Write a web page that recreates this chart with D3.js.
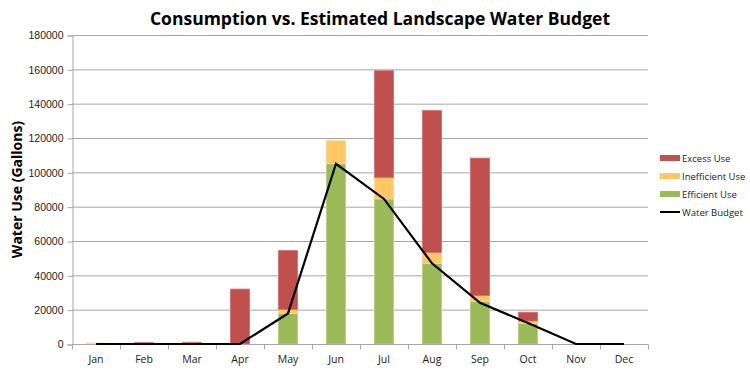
<!DOCTYPE html>
<html>
<head>
<meta charset="utf-8">
<script src="https://cdn.jsdelivr.net/npm/d3@7/dist/d3.min.js"></script>
<style>
  body { margin: 0; background: #fff; }
  svg { font-family: "Open Sans", "DejaVu Sans", sans-serif; }
</style>
</head>
<body>
<svg id="chart" width="750" height="371"></svg>
<script>
// months on the x axis
const months = ['Jan', 'Feb', 'Mar', 'Apr', 'May', 'Jun', 'Jul', 'Aug', 'Sep', 'Oct', 'Nov', 'Dec'];

// stacked consumption (gallons)
const efficientUse   = [0, 0, 0, 0, 17800, 105000, 84500, 46800, 24700, 12000, 0, 0];
const inefficientUse = [500, 0, 0, 0, 2300, 13400, 12500, 6500, 3500, 1400, 0, 0];
const excessUse      = [0, 800, 1000, 32000, 34300, 0, 62200, 82700, 80100, 5100, 0, 0];

// estimated landscape budget
const waterBudget = [0, 0, 0, 0, 17800, 105000, 84500, 47000, 24000, 12200, 0, 0];

const yTicks = [0, 20000, 40000, 60000, 80000, 100000, 120000, 140000, 160000, 180000];

const series = [
	{ key: 'efficient', name: 'Efficient Use', values: efficientUse, fill: '#9bbb59', stroke: '#b5d07a' },
	{ key: 'inefficient', name: 'Inefficient Use', values: inefficientUse, fill: '#ffc864', stroke: '#ffd88e' },
	{ key: 'excess', name: 'Excess Use', values: excessUse, fill: '#c0504d', stroke: '#d4716e' }
];

const svg = d3.select('#chart');
const margin = { left: 72, right: 102, top: 35, bottom: 27 };
const W = 750, H = 371;

const x = d3.scaleBand()
	.domain(months)
	.range([margin.left, W - margin.right])
	.paddingInner(0.6)
	.paddingOuter(0.3);

// band without padding, used for tick marks between months
const xCat = d3.scaleBand().domain(months).range([margin.left, W - margin.right]);

const y = d3.scaleLinear()
	.domain([0, 180000])
	.range([H - margin.bottom, margin.top]);

// title
svg.append('text')
	.attr('x', 380)
	.attr('y', 25)
	.attr('text-anchor', 'middle')
	.style('font-size', '17.5px')
	.style('font-weight', 'bold')
	.text('Consumption vs. Estimated Landscape Water Budget');

// gridlines
svg.append('g')
	.selectAll('line')
	.data(yTicks.slice(1))
	.join('line')
	.attr('x1', margin.left)
	.attr('x2', W - margin.right)
	.attr('y1', d => y(d) + 0.5)
	.attr('y2', d => y(d) + 0.5)
	.style('stroke', '#a6a6a6')
	.style('stroke-width', 1);

// y axis
const yAxis = d3.axisLeft(y).tickValues(yTicks).tickSize(5).tickFormat(d3.format('d'));
const yg = svg.append('g')
	.attr('transform', `translate(${margin.left + 0.5},0.5)`)
	.call(yAxis);
yg.selectAll('path, line').style('stroke', '#a6a6a6');
yg.selectAll('text')
	.attr('x', -9)
	.style('font-size', '10.5px')
	.style('fill', '#222');

svg.append('text')
	.attr('transform', `translate(22,${(margin.top + H - margin.bottom) / 2}) rotate(-90)`)
	.attr('text-anchor', 'middle')
	.style('font-size', '14px')
	.style('font-weight', 'bold')
	.text('Water Use (Gallons)');

// stacked bars
const rows = months.map((m, i) => {
	const r = { month: m };
	series.forEach(s => { r[s.key] = s.values[i]; });
	return r;
});
const stacked = d3.stack().keys(series.map(s => s.key))(rows);

svg.append('g')
	.selectAll('g')
	.data(stacked)
	.join('g')
	.style('fill', (d, i) => series[i].fill)
	.style('stroke', (d, i) => series[i].stroke)
	.style('stroke-width', 0.8)
	.selectAll('rect')
	.data(d => d.filter(v => v[1] - v[0] > 0))
	.join('rect')
	.attr('x', d => x(d.data.month))
	.attr('width', x.bandwidth())
	.attr('y', d => y(d[1]))
	.attr('height', d => y(d[0]) - y(d[1]));

// x axis
const xg = svg.append('g')
	.attr('transform', `translate(0,${H - margin.bottom + 0.5})`);
xg.append('line')
	.attr('x1', margin.left)
	.attr('x2', W - margin.right)
	.style('stroke', '#a6a6a6');
xg.selectAll('line.tick')
	.data(months.concat(['end']))
	.join('line')
	.attr('class', 'tick')
	.attr('x1', (d, i) => Math.round(margin.left + i * xCat.bandwidth()) + 0.5)
	.attr('x2', (d, i) => Math.round(margin.left + i * xCat.bandwidth()) + 0.5)
	.attr('y1', 0)
	.attr('y2', 5)
	.style('stroke', '#a6a6a6');
xg.selectAll('text')
	.data(months)
	.join('text')
	.attr('x', d => xCat(d) + xCat.bandwidth() / 2)
	.attr('y', 18)
	.attr('text-anchor', 'middle')
	.style('font-size', '10.5px')
	.style('fill', '#222')
	.text(d => d);

// water budget line
const line = d3.line()
	.x((d, i) => xCat(months[i]) + xCat.bandwidth() / 2)
	.y(d => y(d));
svg.append('path')
	.datum(waterBudget)
	.attr('d', line)
	.style('fill', 'none')
	.style('stroke', '#000')
	.style('stroke-width', 2.2);

// legend
const legendItems = [series[2], series[1], series[0], { name: 'Water Budget', line: true }];
const lg = svg.append('g').attr('transform', 'translate(660,158)');
legendItems.forEach((d, i) => {
	const g = lg.append('g').attr('transform', `translate(0,${i * 18})`);
	if (d.line) {
		g.append('line')
			.attr('x1', 0).attr('x2', 20)
			.attr('y1', 0).attr('y2', 0)
			.style('stroke', '#000')
			.style('stroke-width', 2);
	} else {
		g.append('rect')
			.attr('x', 0).attr('y', -3)
			.attr('width', 20).attr('height', 6)
			.style('fill', d.fill);
	}
	g.append('text')
		.attr('x', 22)
		.attr('y', 3.5)
		.style('font-size', '9.5px')
		.style('fill', '#222')
		.text(d.name);
});
</script>
</body>
</html>
